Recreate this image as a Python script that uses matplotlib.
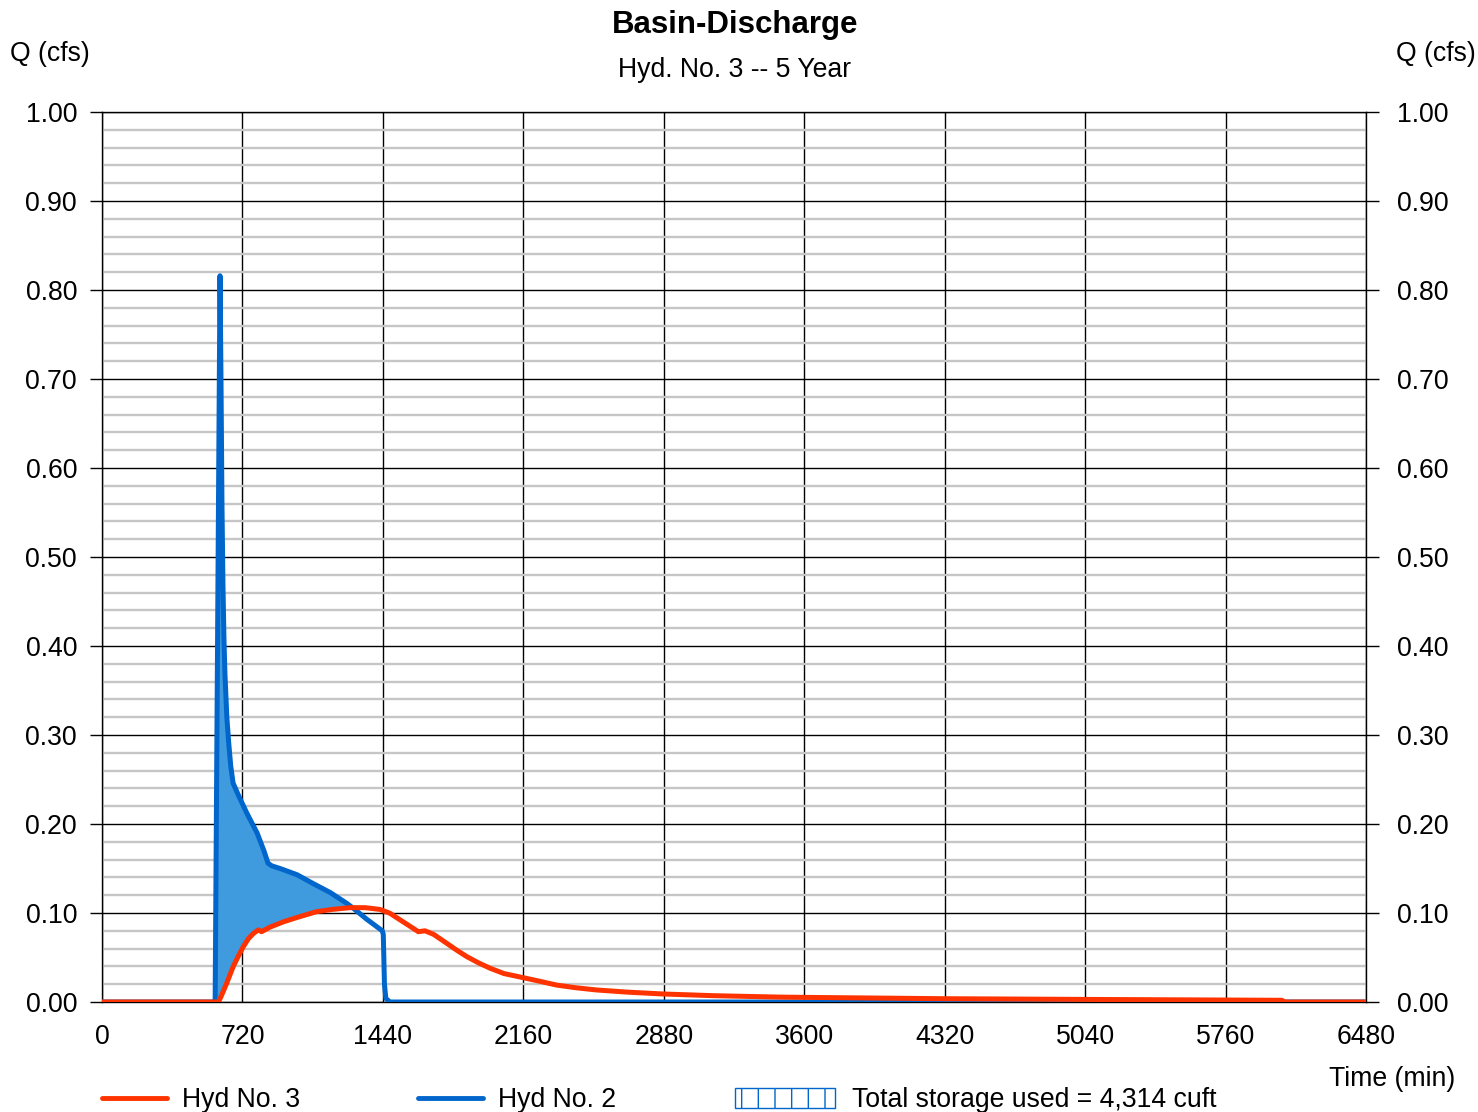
import numpy as np
import matplotlib
matplotlib.use("Agg")
import matplotlib.pyplot as plt
from matplotlib.lines import Line2D
from matplotlib.patches import Patch

plt.rcParams['font.family'] = ['Liberation Sans', 'DejaVu Sans']
plt.rcParams['hatch.linewidth'] = 1.0

# ---- data ----
blue_t = [0, 570, 580, 605, 610, 615, 620, 625, 630, 640, 650, 660, 672, 700, 743, 795, 830, 851,
          870, 913, 1000, 1083, 1170, 1254, 1290, 1357, 1437, 1442, 1448, 1455, 1476, 6480]
blue_q = [0, 0, 0, 0.816, 0.70, 0.56, 0.47, 0.41, 0.37, 0.32, 0.29, 0.265, 0.246, 0.232, 0.212, 0.19, 0.17, 0.156,
          0.153, 0.150, 0.143, 0.133, 0.123, 0.111, 0.105, 0.093, 0.080, 0.076, 0.02, 0.004, 0, 0]

red_t = [0, 597, 610, 639, 673, 700, 724, 750, 776, 801, 818, 860, 929, 1000, 1100, 1180, 1271, 1350, 1425,
         1476, 1622, 1656, 1700, 1767, 1820, 1870, 1930, 1989, 2060, 2160, 2250, 2331, 2430, 2536, 2700,
         2877, 3134, 3476, 3600, 4320, 5040, 5760, 6050, 6060, 6480]
red_q = [0, 0, 0.006, 0.021, 0.040, 0.052, 0.062, 0.071, 0.077, 0.081, 0.079, 0.084, 0.090, 0.095, 0.1015,
         0.104, 0.106, 0.106, 0.104, 0.0997, 0.079, 0.080, 0.076, 0.066, 0.058, 0.051, 0.044, 0.038, 0.032,
         0.0273, 0.023, 0.019, 0.016, 0.0135, 0.011, 0.009, 0.0071, 0.0055, 0.0052, 0.0037, 0.0029, 0.0022,
         0.0019, 0, 0]

x_ticks = [0, 720, 1440, 2160, 2880, 3600, 4320, 5040, 5760, 6480]
y_ticks = [0.0, 0.1, 0.2, 0.3, 0.4, 0.5, 0.6, 0.7, 0.8, 0.9, 1.0]
y_labels = ["%.2f" % v for v in y_ticks]

title = "Basin-Discharge"
subtitle = "Hyd. No. 3 -- 5 Year"
storage_label = "Total storage used = 4,314 cuft"

RED = "#FF3300"
BLUE = "#0066CC"
FILL = "#3F9BDE"
FS = 19.2

fig = plt.figure(figsize=(14.78, 11.12), dpi=100)
ax = fig.add_axes([102/1478, 1-1002/1112, (1366-102)/1478, (1002-112)/1112])

ax.set_xlim(0, 6480)
ax.set_ylim(0, 1.0)

# grid
ax.set_yticks(np.arange(0, 1.0001, 0.02), minor=True)
ax.grid(True, which='minor', axis='y', color='#C6C6C6', lw=1.7, zorder=0)
ax.grid(True, which='major', axis='both', color='black', lw=1.0, zorder=0.5)
ax.set_axisbelow(True)

# fill (storage)
tt = np.union1d(blue_t, red_t)
bi = np.interp(tt, blue_t, blue_q)
ri = np.interp(tt, red_t, red_q)
ax.fill_between(tt, ri, bi, where=bi > ri, interpolate=True, color=FILL, lw=0, zorder=2)

ax.plot(blue_t, blue_q, color=BLUE, lw=3.6, zorder=3, solid_joinstyle='round')
ax.plot(red_t, red_q, color=RED, lw=3.6, zorder=4, solid_joinstyle='round')

ax.set_xticks(x_ticks)
ax.set_xticklabels([str(v) for v in x_ticks], fontsize=FS)
ax.set_yticks(y_ticks)
ax.set_yticklabels(y_labels, fontsize=FS)
ax.tick_params(axis='x', which='both', length=0, pad=15.5)
ax.tick_params(axis='y', which='major', length=9, width=1, direction='out', pad=9)
ax.tick_params(axis='y', which='minor', length=0)
for s in ax.spines.values():
    s.set_color('black')
    s.set_linewidth(1.0)

ax2 = ax.twinx()
ax2.set_ylim(0, 1.0)
ax2.set_yticks(y_ticks)
ax2.set_yticklabels(y_labels, fontsize=FS)
ax2.tick_params(axis='y', length=9, width=1, direction='out', pad=13.5)
for s in ax2.spines.values():
    s.set_visible(False)

# texts
dy = 2/1112
fig.text(735/1478, 1-23/1112-dy, title, ha='center', va='center', fontsize=22.5, fontweight='bold')
fig.text(735/1478, 1-68/1112-dy, subtitle, ha='center', va='center', fontsize=FS)
fig.text(10/1478, 1-52/1112-dy, "Q (cfs)", ha='left', va='center', fontsize=FS)
fig.text(1476/1478, 1-52/1112-dy, "Q (cfs)", ha='right', va='center', fontsize=FS)
fig.text(1455/1478, 1-1077/1112-dy, "Time (min)", ha='right', va='center', fontsize=FS)

# legend entries
common = dict(loc='center left', frameon=False, borderpad=0, borderaxespad=0, fontsize=FS)
ly = 1-1100/1112
fig.legend(handles=[Line2D([], [], color=RED, lw=3.5, solid_capstyle='round')], labels=["Hyd No. 3"],
           bbox_to_anchor=(102/1478, ly), handlelength=2.45, handletextpad=0.55, **common)
fig.legend(handles=[Line2D([], [], color=BLUE, lw=3.5, solid_capstyle='round')], labels=["Hyd No. 2"],
           bbox_to_anchor=(418/1478, ly), handlelength=2.45, handletextpad=0.55, **common)
fig.legend(handles=[Patch(facecolor='white', edgecolor=BLUE, hatch='|', lw=1.0)], labels=[storage_label],
           bbox_to_anchor=(735/1478, ly), handlelength=3.75, handleheight=0.8, handletextpad=0.65, **common)

fig.savefig("out.png", dpi=100)
